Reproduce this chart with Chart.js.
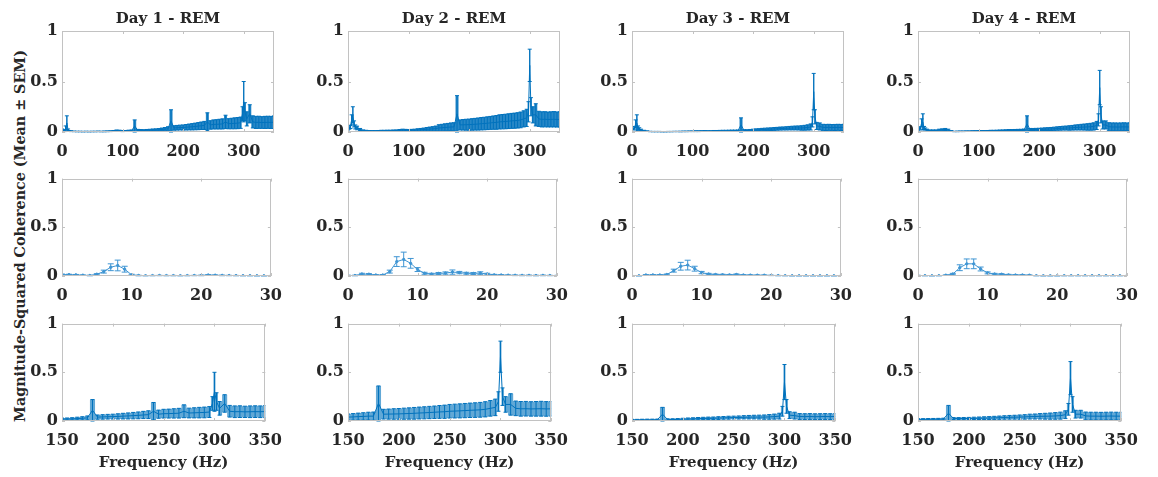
<!DOCTYPE html>
<html>
<head>
<meta charset="utf-8">
<script src="https://cdn.jsdelivr.net/npm/chart.js@4.4.0/dist/chart.umd.min.js"></script>
<style>
  body { margin: 0; background: #fff; }
  #wrap { position: relative; width: 1158px; height: 477px; overflow: hidden; }
  canvas { position: absolute; }
  #ylab {
    position: absolute; left: 20px; top: 236px;
    transform: translate(-50%, -50%) rotate(-90deg);
    white-space: nowrap; font: bold 14.3px 'DejaVu Serif'; color: #262626;
  }
</style>
</head>
<body>
<div id="wrap"><div id="ylab">Magnitude-Squared Coherence (Mean ± SEM)</div></div>
<script>
const days = ['Day 1 - REM', 'Day 2 - REM', 'Day 3 - REM', 'Day 4 - REM'];

// broad band (0-350 Hz), shared by rows 1 and 3
const freqs = [0, 2, 4, 6, 8, 10, 12, 15, 20, 25,
  30, 35, 40, 45, 50, 55, 60, 65, 70, 75,
  80, 85, 90, 95, 100, 105, 110, 115, 120, 125,
  130, 135, 140, 145, 150, 155, 160, 165, 170, 175,
  180, 185, 190, 195, 200, 205, 210, 215, 220, 225,
  230, 235, 240, 245, 250, 255, 260, 265, 270, 275,
  280, 285, 290, 295, 298, 300, 302, 305, 310, 315,
  320, 325, 330, 335, 340, 345, 350];

const mean1 = [0.02, 0.015, 0.01, 0.04, 0.09, 0.02, 0.01, 0.008, 0.006, 0.005,
  0.005, 0.004, 0.005, 0.004, 0.005, 0.005, 0.006, 0.005, 0.006, 0.007,
  0.008, 0.01, 0.014, 0.012, 0.009, 0.01, 0.012, 0.014, 0.06, 0.018,
  0.016, 0.015, 0.016, 0.018, 0.02, 0.02, 0.022, 0.025, 0.028, 0.032,
  0.11, 0.04, 0.042, 0.044, 0.045, 0.047, 0.05, 0.052, 0.055, 0.058,
  0.062, 0.065, 0.1, 0.07, 0.075, 0.076, 0.078, 0.08, 0.1, 0.082,
  0.084, 0.086, 0.088, 0.092, 0.18, 0.3, 0.2, 0.13, 0.18, 0.1,
  0.095, 0.096, 0.094, 0.095, 0.096, 0.095, 0.097];
const sem1 = [0.01, 0.008, 0.006, 0.02, 0.07, 0.01, 0.005, 0.004, 0.003, 0.003,
  0.003, 0.003, 0.003, 0.003, 0.003, 0.003, 0.003, 0.003, 0.004, 0.004,
  0.004, 0.005, 0.006, 0.006, 0.005, 0.005, 0.006, 0.006, 0.06, 0.008,
  0.008, 0.008, 0.009, 0.009, 0.01, 0.011, 0.012, 0.014, 0.016, 0.02,
  0.11, 0.022, 0.023, 0.024, 0.025, 0.027, 0.029, 0.031, 0.033, 0.035,
  0.037, 0.04, 0.09, 0.042, 0.045, 0.046, 0.048, 0.05, 0.066, 0.05,
  0.052, 0.054, 0.055, 0.056, 0.07, 0.2, 0.09, 0.07, 0.09, 0.06,
  0.06, 0.06, 0.058, 0.06, 0.06, 0.06, 0.062];

const mean2 = [0.03, 0.04, 0.05, 0.12, 0.17, 0.08, 0.05, 0.04, 0.025, 0.015,
  0.012, 0.01, 0.01, 0.01, 0.011, 0.012, 0.012, 0.013, 0.013, 0.014,
  0.015, 0.017, 0.02, 0.018, 0.016, 0.017, 0.018, 0.02, 0.022, 0.024,
  0.027, 0.029, 0.031, 0.034, 0.04, 0.042, 0.045, 0.047, 0.05, 0.05,
  0.18, 0.07, 0.071, 0.072, 0.073, 0.075, 0.077, 0.079, 0.082, 0.084,
  0.087, 0.09, 0.093, 0.095, 0.1, 0.102, 0.104, 0.107, 0.11, 0.112,
  0.115, 0.12, 0.13, 0.14, 0.2, 0.66, 0.25, 0.17, 0.17, 0.13,
  0.125, 0.126, 0.124, 0.125, 0.126, 0.124, 0.125];
const sem2 = [0.01, 0.012, 0.015, 0.05, 0.08, 0.03, 0.02, 0.018, 0.01, 0.006,
  0.005, 0.004, 0.004, 0.004, 0.004, 0.005, 0.005, 0.005, 0.005, 0.006,
  0.006, 0.007, 0.008, 0.008, 0.008, 0.009, 0.01, 0.012, 0.013, 0.015,
  0.017, 0.02, 0.022, 0.025, 0.032, 0.034, 0.036, 0.038, 0.04, 0.042,
  0.18, 0.05, 0.052, 0.054, 0.055, 0.057, 0.058, 0.06, 0.061, 0.062,
  0.063, 0.064, 0.066, 0.068, 0.07, 0.071, 0.072, 0.073, 0.074, 0.075,
  0.076, 0.078, 0.08, 0.085, 0.1, 0.16, 0.09, 0.08, 0.11, 0.075,
  0.075, 0.075, 0.074, 0.075, 0.076, 0.075, 0.075];

const mean3 = [0.04, 0.03, 0.04, 0.08, 0.09, 0.04, 0.03, 0.02, 0.012, 0.008,
  0.005, 0.004, 0.004, 0.004, 0.003, 0.003, 0.004, 0.004, 0.005, 0.005,
  0.005, 0.006, 0.006, 0.007, 0.007, 0.008, 0.008, 0.009, 0.01, 0.009,
  0.009, 0.01, 0.01, 0.011, 0.011, 0.011, 0.012, 0.012, 0.012, 0.013,
  0.07, 0.015, 0.015, 0.016, 0.018, 0.02, 0.022, 0.024, 0.026, 0.027,
  0.028, 0.03, 0.032, 0.034, 0.035, 0.036, 0.038, 0.039, 0.04, 0.04,
  0.04, 0.042, 0.045, 0.05, 0.1, 0.4, 0.15, 0.06, 0.055, 0.046,
  0.045, 0.046, 0.044, 0.045, 0.046, 0.045, 0.046];
const sem3 = [0.015, 0.01, 0.012, 0.04, 0.08, 0.02, 0.012, 0.008, 0.005, 0.003,
  0.002, 0.002, 0.002, 0.002, 0.002, 0.002, 0.002, 0.002, 0.002, 0.002,
  0.003, 0.003, 0.003, 0.003, 0.003, 0.004, 0.004, 0.004, 0.004, 0.004,
  0.004, 0.005, 0.005, 0.005, 0.006, 0.006, 0.006, 0.007, 0.007, 0.007,
  0.07, 0.008, 0.008, 0.009, 0.01, 0.011, 0.011, 0.012, 0.012, 0.013,
  0.013, 0.014, 0.014, 0.015, 0.015, 0.016, 0.017, 0.018, 0.019, 0.02,
  0.022, 0.024, 0.026, 0.03, 0.05, 0.18, 0.07, 0.035, 0.035, 0.03,
  0.03, 0.03, 0.03, 0.03, 0.03, 0.03, 0.03];

const mean4 = [0.03, 0.03, 0.04, 0.09, 0.1, 0.04, 0.03, 0.02, 0.015, 0.015,
  0.015, 0.02, 0.022, 0.025, 0.02, 0.01, 0.005, 0.006, 0.007, 0.007,
  0.008, 0.008, 0.009, 0.009, 0.01, 0.01, 0.01, 0.011, 0.012, 0.012,
  0.013, 0.014, 0.015, 0.016, 0.017, 0.017, 0.018, 0.018, 0.019, 0.02,
  0.08, 0.025, 0.025, 0.025, 0.026, 0.027, 0.028, 0.029, 0.03, 0.032,
  0.034, 0.036, 0.038, 0.039, 0.04, 0.042, 0.045, 0.046, 0.048, 0.049,
  0.05, 0.052, 0.055, 0.065, 0.12, 0.44, 0.17, 0.07, 0.07, 0.052,
  0.05, 0.05, 0.049, 0.05, 0.051, 0.05, 0.05];
const sem4 = [0.012, 0.01, 0.012, 0.04, 0.08, 0.015, 0.01, 0.008, 0.006, 0.006,
  0.006, 0.008, 0.009, 0.01, 0.008, 0.004, 0.002, 0.003, 0.003, 0.003,
  0.003, 0.003, 0.003, 0.004, 0.004, 0.004, 0.004, 0.004, 0.005, 0.005,
  0.005, 0.006, 0.006, 0.006, 0.007, 0.007, 0.007, 0.008, 0.008, 0.009,
  0.08, 0.01, 0.01, 0.011, 0.011, 0.012, 0.013, 0.014, 0.015, 0.016,
  0.017, 0.018, 0.019, 0.02, 0.022, 0.023, 0.025, 0.026, 0.028, 0.03,
  0.032, 0.034, 0.036, 0.04, 0.06, 0.17, 0.08, 0.04, 0.04, 0.04,
  0.04, 0.04, 0.04, 0.04, 0.04, 0.04, 0.04];

// low band (0-30 Hz), row 2
const lowFreqs = [0, 1, 2, 3, 4, 5, 6, 7, 8, 9, 10, 11, 12, 13, 14, 15,
  16, 17, 18, 19, 20, 21, 22, 23, 24, 25, 26, 27, 28, 29, 30];

const lowMean1 = [0.015, 0.014, 0.012, 0.008, 0.005, 0.018, 0.045, 0.09, 0.108, 0.07,
  0.012, 0.005, 0.003, 0.004, 0.005, 0.004, 0.004, 0.003, 0.004, 0.005,
  0.006, 0.01, 0.008, 0.006, 0.005, 0.004, 0.003, 0.003, 0.002, 0.002, 0.002];
const lowSem1 = [0.005, 0.004, 0.004, 0.003, 0.003, 0.006, 0.015, 0.035, 0.055, 0.03,
  0.006, 0.003, 0.002, 0.002, 0.002, 0.002, 0.002, 0.002, 0.002, 0.002,
  0.003, 0.004, 0.003, 0.003, 0.002, 0.002, 0.002, 0.002, 0.001, 0.001, 0.001];

const lowMean2 = [0.005, 0.005, 0.02, 0.018, 0.01, 0.01, 0.045, 0.148, 0.17, 0.13,
  0.066, 0.028, 0.02, 0.026, 0.03, 0.04, 0.035, 0.028, 0.026, 0.03,
  0.02, 0.012, 0.01, 0.008, 0.007, 0.006, 0.006, 0.005, 0.006, 0.005, 0.004];
const lowSem2 = [0.003, 0.003, 0.008, 0.007, 0.004, 0.005, 0.015, 0.05, 0.075, 0.05,
  0.02, 0.01, 0.008, 0.01, 0.012, 0.022, 0.012, 0.01, 0.01, 0.013,
  0.008, 0.005, 0.004, 0.003, 0.003, 0.003, 0.003, 0.003, 0.003, 0.002, 0.002];

const lowMean3 = [0.002, 0.002, 0.01, 0.011, 0.01, 0.015, 0.055, 0.1, 0.112, 0.075,
  0.035, 0.02, 0.015, 0.013, 0.012, 0.015, 0.01, 0.009, 0.008, 0.008,
  0.006, 0.004, 0.003, 0.002, 0.002, 0.002, 0.002, 0.002, 0.002, 0.002, 0.002];
const lowSem3 = [0.001, 0.001, 0.004, 0.004, 0.004, 0.005, 0.015, 0.04, 0.05, 0.025,
  0.012, 0.007, 0.005, 0.005, 0.004, 0.006, 0.004, 0.003, 0.003, 0.003,
  0.002, 0.002, 0.001, 0.001, 0.001, 0.001, 0.001, 0.001, 0.001, 0.001, 0.001];

const lowMean4 = [0.005, 0.003, 0.002, 0.003, 0.008, 0.02, 0.085, 0.125, 0.125, 0.072,
  0.032, 0.02, 0.018, 0.012, 0.01, 0.01, 0.008, 0.003, 0.002, 0.002,
  0.002, 0.003, 0.003, 0.003, 0.003, 0.003, 0.003, 0.003, 0.003, 0.003, 0.003];
const lowSem4 = [0.002, 0.001, 0.001, 0.001, 0.003, 0.007, 0.03, 0.05, 0.05, 0.02,
  0.01, 0.007, 0.006, 0.005, 0.004, 0.004, 0.003, 0.001, 0.001, 0.001,
  0.001, 0.001, 0.001, 0.001, 0.001, 0.001, 0.001, 0.001, 0.001, 0.001, 0.001];

const wideTicks = [0, 100, 200, 300];
const lowTicks = [0, 10, 20, 30];
const zoomTicks = [150, 200, 250, 300, 350];
const yTicks = [0, 0.5, 1];

const hiMeans = [mean1, mean2, mean3, mean4];
const hiSems = [sem1, sem2, sem3, sem4];
const lowMeans = [lowMean1, lowMean2, lowMean3, lowMean4];
const lowSems = [lowSem1, lowSem2, lowSem3, lowSem4];

// layout of the 3x4 grid
const colLeft = [62, 348, 632, 918];
const rowTop = [31, 175, 320];
const plotW = 212, plotH = 101;
const blue = '#0072BD';
const ink = '#262626';

Chart.defaults.font.family = "'DejaVu Serif', serif";
Chart.defaults.font.weight = 'bold';
Chart.defaults.color = ink;

// vertical mean ± SEM bars with caps
const errorBars = {
  id: 'errorBars',
  afterDatasetsDraw(chart) {
    const {ctx, chartArea: a, scales: {x, y}} = chart;
    ctx.save();
    ctx.beginPath();
    ctx.rect(a.left, a.top - 1, a.right - a.left, a.bottom - a.top + 2);
    ctx.clip();
    chart.data.datasets.forEach(ds => {
      if (!ds.sem) return;
      ctx.strokeStyle = ds.borderColor;
      ctx.lineWidth = 1;
      ctx.beginPath();
      ds.data.forEach((p, i) => {
        if (p.x < x.min || p.x > x.max) return;
        const px = x.getPixelForValue(p.x);
        const yHi = y.getPixelForValue(p.y + ds.sem[i]);
        const yLo = y.getPixelForValue(p.y - ds.sem[i]);
        ctx.moveTo(px, yLo); ctx.lineTo(px, yHi);
        ctx.moveTo(px - ds.cap, yLo); ctx.lineTo(px + ds.cap, yLo);
        ctx.moveTo(px - ds.cap, yHi); ctx.lineTo(px + ds.cap, yHi);
      });
      ctx.stroke();
    });
    ctx.restore();
  }
};

// matlab style box with inward ticks
const axesBox = {
  id: 'axesBox',
  afterDraw(chart) {
    const {ctx, chartArea: a, scales: {x, y}} = chart;
    ctx.save();
    ctx.strokeStyle = '#c2c2c2';
    ctx.lineWidth = 1;
    ctx.strokeRect(Math.round(a.left) + 0.5, Math.round(a.top) + 0.5,
      Math.round(a.right - a.left) - 1, Math.round(a.bottom - a.top) - 1);
    ctx.beginPath();
    x.ticks.forEach(t => {
      const px = Math.round(x.getPixelForValue(t.value)) + 0.5;
      ctx.moveTo(px, a.bottom); ctx.lineTo(px, a.bottom - 3);
      ctx.moveTo(px, a.top); ctx.lineTo(px, a.top + 3);
    });
    y.ticks.forEach(t => {
      const py = Math.round(y.getPixelForValue(t.value)) + 0.5;
      ctx.moveTo(a.left, py); ctx.lineTo(a.left + 3, py);
      ctx.moveTo(a.right, py); ctx.lineTo(a.right - 3, py);
    });
    ctx.stroke();
    ctx.restore();
  }
};

const wrap = document.getElementById('wrap');

function makePanel(row, col) {
  const padTop = row === 0 ? 4 : 10;
  const titleH = row === 0 ? 21 : 0;
  const xH = row === 2 ? 51 : 30;
  const yW = 45, padRight = 18;

  const cv = document.createElement('canvas');
  cv.width = yW + plotW + padRight;
  cv.height = padTop + titleH + plotH + xH;
  cv.style.left = (colLeft[col] - yW) + 'px';
  cv.style.top = (rowTop[row] - padTop - titleH) + 'px';
  wrap.appendChild(cv);

  const low = row === 1;
  const xs = low ? lowFreqs : freqs;
  const mean = low ? lowMeans[col] : hiMeans[col];
  const sem = low ? lowSems[col] : hiSems[col];
  const ticks = row === 0 ? wideTicks : (low ? lowTicks : zoomTicks);

  const datasets = [];
  if (!low) {
    // band between mean+sem and mean-sem
    datasets.push({
      data: xs.map((f, i) => ({x: f, y: mean[i] + sem[i]})),
      borderWidth: 0, pointRadius: 0, fill: false, stepped: 'middle'
    });
    datasets.push({
      data: xs.map((f, i) => ({x: f, y: mean[i] - sem[i]})),
      borderWidth: 0, pointRadius: 0, fill: '-1', stepped: 'middle',
      backgroundColor: row === 0 ? 'rgba(0,114,189,0.85)' : 'rgba(0,114,189,0.62)'
    });
  }
  datasets.push({
    data: xs.map((f, i) => ({x: f, y: mean[i]})),
    sem: sem,
    cap: low ? 3 : 2,
    borderColor: low ? '#3f95d3' : blue,
    backgroundColor: low ? '#3f95d3' : blue,
    borderWidth: 1,
    pointRadius: low ? 1.2 : 0,
    tension: 0,
    fill: false
  });

  new Chart(cv, {
    type: 'line',
    data: {datasets},
    plugins: [errorBars, axesBox],
    options: {
      responsive: false,
      animation: false,
      devicePixelRatio: 1,
      layout: {padding: {top: padTop, right: padRight, left: 0, bottom: 0}},
      plugins: {
        legend: {display: false},
        tooltip: {enabled: false},
        title: {
          display: row === 0,
          text: days[col],
          fullSize: false,
          font: {size: 15, weight: 'bold'},
          color: ink,
          padding: {top: 0, bottom: 3}
        }
      },
      scales: {
        x: {
          type: 'linear',
          min: row === 2 ? 150 : 0,
          max: low ? 30 : 350,
          afterBuildTicks: s => { s.ticks = ticks.map(v => ({value: v})); },
          afterFit: s => { s.height = xH; },
          grid: {display: false, drawTicks: false},
          border: {display: false},
          ticks: {padding: 10, font: {size: 16, weight: 'bold'}, color: ink,
            maxRotation: 0, autoSkip: false, callback: v => String(v)},
          title: {
            display: row === 2,
            text: 'Frequency (Hz)',
            font: {size: 15, weight: 'bold'},
            color: ink,
            padding: {top: 0, bottom: 0}
          }
        },
        y: {
          min: 0,
          max: 1,
          afterBuildTicks: s => { s.ticks = yTicks.map(v => ({value: v})); },
          afterFit: s => { s.width = yW; },
          grid: {display: false, drawTicks: false},
          border: {display: false},
          ticks: {padding: 4, font: {size: 16, weight: 'bold'}, color: ink,
            callback: v => String(v)}
        }
      }
    }
  });
}

for (let r = 0; r < 3; r++) {
  for (let c = 0; c < 4; c++) makePanel(r, c);
}
</script>
</body>
</html>
